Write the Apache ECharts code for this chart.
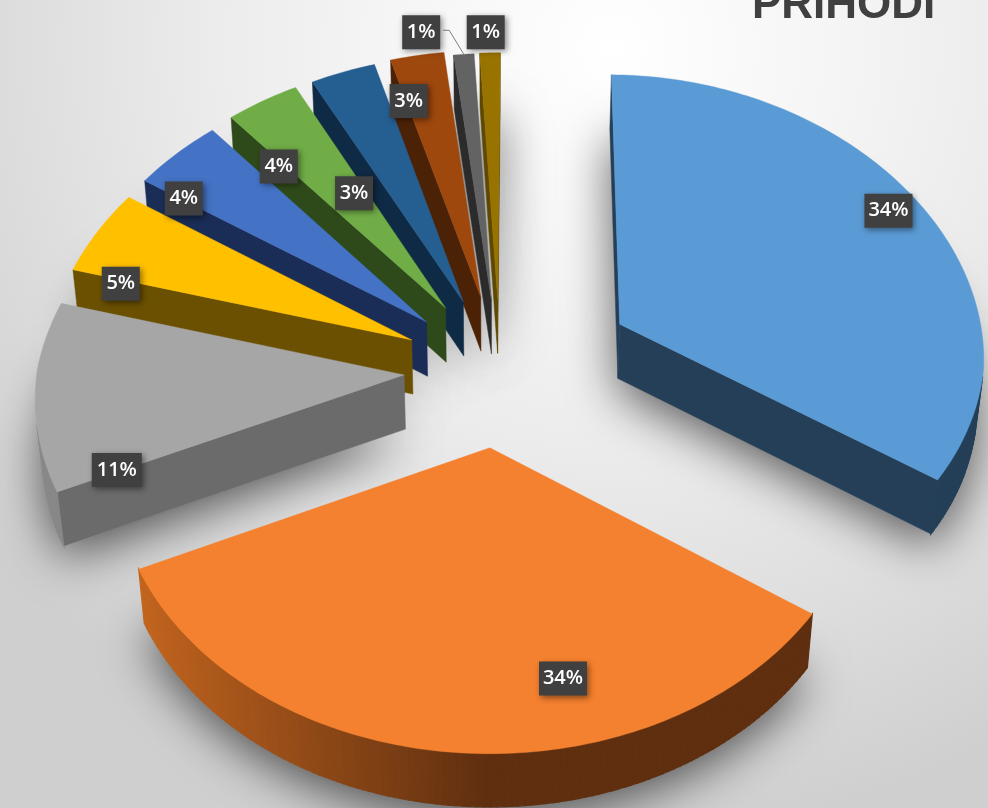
<!DOCTYPE html>
<html><head><meta charset="utf-8">
<style>html,body{margin:0;padding:0;background:#fff}#c{width:988px;height:808px}</style>
<script src="https://cdn.jsdelivr.net/npm/echarts@6/dist/echarts.min.js"></script>
</head><body><div id="c"></div>
<script>
// ---- data ----
const categories = ['A','B','C','D','E','F','G','H','I','J'];
const values = [34.35, 33.7, 11.1, 5, 4.4, 3.6, 3.2, 2.65, 1, 1];
const titleText = 'PRIHODI';
// ---- styling -------
const topColors  = ['#5B9BD5','#F4812F','#A6A6A6','#FFC000','#4472C4','#70AD47','#255E91','#9E480E','#636363','#997300'];
const sideColors = ['#243F57','#5F2F10','#6B6B6B','#6A5000','#1A2D56','#2F4A1A','#0F2A45','#4C2207','#2B2B2B','#5F4800'];
const litColors  = ['#243F57','#CC6A20','#8A8A8A','#6A5000','#1A2D56','#2F4A1A','#0F2A45','#4C2207','#2B2B2B','#5F4800'];
const explosion  = [0.385,0.28,0.248,0.255,0.26,0.269,0.269,0.276,0.262,0.265];
const explodeTurn= [1.5,-2,0.4,1.4,1.8,3.4,2.8,3.15,2.7,2.9];
const labelRadius= [0.905,0.79,0.83,0.85,0.86,0.746,0.532,0.816,1.114,1.09];
const labelTurn  = [-1.3,-18.4,-19.6,-10,-7.5,-7.6,-15.2,-4.2,-6.4,-0.6];
const startAngle = 0.5;
// projection of the tilted pie
const P = {cx:495, cy:370, fx:367, fy:273, persp:0.07, perspFar:0.03, depthScale:0.015, depth:55};
function project(X,Y,Z){
  const w = 1+P.persp*Y+P.depthScale*Z;
  return [P.cx+P.fx*X/(w+P.perspFar*Math.max(Y,0)), P.cy-P.fy*Y/w+P.depth*Z/w];
}
const total = values.reduce((a,b)=>a+b,0);
const rad = d=>d*Math.PI/180;
let acc = startAngle;
const slices = values.map((v,i)=>{
  const a0=acc, a1=acc+v/total*360; acc=a1;
  const mid=(a0+a1)/2, e=explosion[i], dir=rad(mid+explodeTurn[i]);
  return {i,a0,a1,mid,ox:e*Math.sin(dir),oy:e*Math.cos(dir)};
});
function rim(s,Z){
  const n=Math.max(4,Math.ceil(s.a1-s.a0)),pts=[];
  for(let k=0;k<=n;k++){
    const a=rad(s.a0+(s.a1-s.a0)*k/n);
    pts.push({p:project(s.ox+Math.sin(a),s.oy+Math.cos(a),Z),a});
  }
  return pts;
}
const area=q=>{let t=0;for(let i=0;i<q.length;i++){const a=q[i],b=q[(i+1)%q.length];t+=a[0]*b[1]-b[0]*a[1];}return t;};
function hex(c){return [1,3,5].map(k=>parseInt(c.substr(k,2),16));}
function mix(a,b,t){const A=hex(a),B=hex(b);return 'rgb('+A.map((v,k)=>Math.round(v+(B[k]-v)*t)).join(',')+')';}
const order = slices.slice().sort((a,b)=>(b.oy+Math.cos(rad(b.mid))*.6)-(a.oy+Math.cos(rad(a.mid))*.6));
function poly(points,style){return {type:'polygon',shape:{points},style};}

function renderShadow(params,api){
  const s=slices[api.value(0)];
  const t=rim(s,1).map(o=>o.p),apex=project(s.ox,s.oy,1);
  return poly([apex].concat(t),{fill:'#c8c8c8',shadowBlur:48,shadowColor:'rgba(0,0,0,0.62)',shadowOffsetY:12});
}
function renderSlice(params,api){
  const s=slices[api.value(0)],i=s.i,kids=[];
  const top=rim(s,0),bot=rim(s,1);
  const a0=project(s.ox,s.oy,0),a1=project(s.ox,s.oy,1);
  const side=sideColors[i];
  const wall=q=>poly(q,{fill:side,stroke:side,lineWidth:.5});
  const n=top.length-1;
  // radial walls (only those facing the viewer)
  const w0=[a0,top[0].p,bot[0].p,a1], w1=[a0,a1,bot[n].p,top[n].p];
  if(area(w0)<0) kids.push(wall(w0));
  if(area(w1)<0) kids.push(wall(w1));
  // outer wall
  for(let k=0;k<n;k++){
    const q=[top[k].p,top[k+1].p,bot[k+1].p,bot[k].p];
    if(area(q)>0) continue;
    const nx=Math.sin((top[k].a+top[k+1].a)/2);
    const c=mix(side,litColors[i],Math.max(0,-nx));
    kids.push(poly(q,{fill:c,stroke:c,lineWidth:1.2}));
  }
  const tp=[a0].concat(top.map(o=>o.p));
  kids.push(poly(tp,{fill:topColors[i],stroke:topColors[i],lineWidth:.4}));
  return {type:'group',children:kids};
}
function renderLabel(params,api){
  const s=slices[api.value(0)],i=s.i;
  const a=rad(s.mid+labelTurn[i]),r=labelRadius[i];
  const p=project(s.ox+r*Math.sin(a),s.oy+r*Math.cos(a),0);
  const kids=[];
  if(i===8){
    const tip=project(s.ox+Math.sin(rad(s.mid)),s.oy+Math.cos(rad(s.mid)),0);
    kids.push({type:'polyline',shape:{points:[[p[0]+22,p[1]-2],[p[0]+28,p[1]-2],tip]},style:{stroke:'#7f7f7f',lineWidth:1,fill:null}});
  }
  const txt=Math.round(values[i])+'%';
  const w=txt.length===3?(values[i]>20?48:50):38;
  kids.push({type:'rect',shape:{x:p[0]-w/2,y:p[1]-17,width:w,height:34},
    style:{fill:'#404040',shadowBlur:6,shadowColor:'rgba(0,0,0,0.45)',shadowOffsetX:2,shadowOffsetY:2}});
  kids.push({type:'text',x:p[0],y:p[1],style:{text:txt,fill:'#fff',align:'center',verticalAlign:'middle',
    font:'600 20px "Open Sans"'}});
  return {type:'group',children:kids};
}
const seriesData = order.map(s=>[s.i,values[s.i]]);
const chart=echarts.init(document.getElementById('c'),null,{renderer:'canvas'});
chart.setOption({
  animation:false,
  backgroundColor:new echarts.graphic.RadialGradient(0.62,0.06,0.98,[
    {offset:0,color:'#ffffff'},{offset:0.28,color:'#f5f5f5'},{offset:0.5,color:'#ececec'},{offset:1,color:'#cfcfcf'}]),
  title:{text:titleText,left:747,top:-21,textStyle:{fontFamily:'"Liberation Sans"',fontWeight:'bold',fontSize:44,color:'#404040'}},
  series:[
    {type:'custom',coordinateSystem:'none',silent:true,data:seriesData,renderItem:renderShadow,z:1},
    {type:'custom',coordinateSystem:'none',data:seriesData,renderItem:renderSlice,z:2},
    {type:'custom',coordinateSystem:'none',silent:true,data:seriesData,renderItem:renderLabel,z:3}
  ]
});
</script></body></html>
